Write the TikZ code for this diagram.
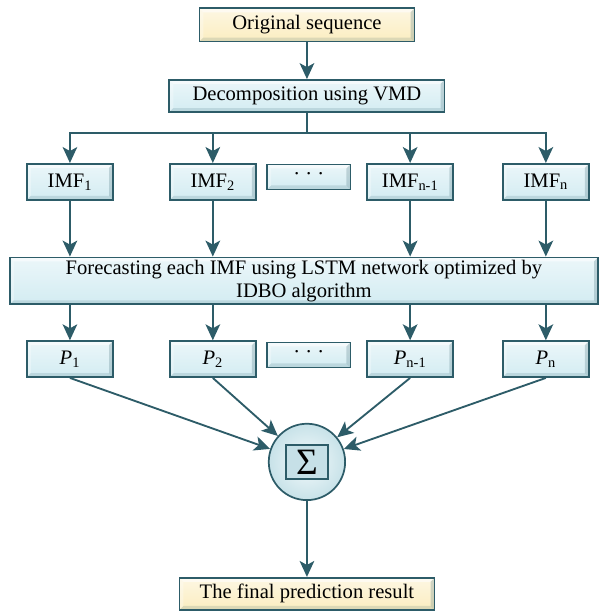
\documentclass[tikz,border=0pt]{standalone}
\usepackage{fontspec}
\setmainfont{Liberation Serif}
\usetikzlibrary{arrows.meta,positioning,calc}
\definecolor{edge}{HTML}{2D5C68}
\definecolor{boxblue}{HTML}{D3ECF2}
\definecolor{boxyellow}{HTML}{FBEDC0}

\tikzset{
    bevel/.style={path picture={
        \path (path picture bounding box.south west) coordinate (sw)
              (path picture bounding box.north east) coordinate (ne);
        \fill[white, opacity=.55] (sw|-ne) -- (ne) -- ($(ne)+(-3pt,-3pt)$) -- ($(sw|-ne)+(3pt,-3pt)$) -- cycle;
        \fill[white, opacity=.3] (sw|-ne) -- (sw) -- ($(sw)+(3pt,3pt)$) -- ($(sw|-ne)+(3pt,-3pt)$) -- cycle;
        \fill[edge, opacity=.15] (sw) -- (ne|-sw) -- ($(ne|-sw)+(-3pt,3pt)$) -- ($(sw)+(3pt,3pt)$) -- cycle;
        \fill[edge, opacity=.22] (ne) -- (ne|-sw) -- ($(ne|-sw)+(-3pt,3pt)$) -- ($(ne)+(-3pt,-3pt)$) -- cycle;
    }}
}

\begin{document}
\begin{tikzpicture}[
    base/.style={rectangle, draw=edge, line width=1.3pt, inner sep=0pt, bevel,
        font=\fontsize{15.5}{17}\selectfont},
    wide/.style={base, top color=boxblue!45!white, bottom color=boxblue},
    io/.style={base, top color=boxyellow!45!white, bottom color=boxyellow, minimum height=0.88cm},
    imf/.style={wide, minimum width=2.28cm, minimum height=0.95cm},
    dots/.style={wide, minimum width=2.2cm, minimum height=0.66cm},
    sum/.style={circle, draw=edge, line width=1.3pt, minimum size=2.02cm,
        inner color=boxblue!25!white, outer color=boxblue!93!edge},
    sigbox/.style={rectangle, draw=edge, line width=1.1pt, fill=boxblue!92!edge,
        minimum width=1.12cm, minimum height=0.9cm, inner sep=0pt,
        font=\fontsize{28}{28}\selectfont},
    ln/.style={draw=edge, line width=1.4pt},
    >={Stealth[length=12pt, width=11pt, inset=3pt]}
]
    \useasboundingbox (0,0) rectangle (16.03,16.19);

    % Input and decomposition
    \node[io, minimum width=5.69cm] (orig) at (8.12,15.53) {Original sequence};
    \node[wide, minimum width=7.28cm, minimum height=0.85cm] (vmd) at (8.12,13.65) {Decomposition using VMD};
    \coordinate (bus) at (8.12,12.67);

    % Modes
    \node[imf] (imf1) at (1.85,11.38) {IMF\textsubscript{1}};
    \node[imf] (imf2) at (5.63,11.38) {IMF\textsubscript{2}};
    \node[dots] (imfd) at (8.17,11.51) {· · ·};
    \node[imf] (imfn1) at (10.85,11.38) {IMF\textsubscript{n-1}};
    \node[imf] (imfn) at (14.44,11.38) {IMF\textsubscript{n}};

    % Forecasting
    \node[wide, minimum width=15.56cm, minimum height=1.24cm, align=center] (fc) at (8.04,8.76)
        {Forecasting each IMF using LSTM network optimized by\\ IDBO algorithm};

    % Partial predictions
    \node[imf] (p1) at (1.85,6.69) {\textit{P}\textsubscript{1}};
    \node[imf] (p2) at (5.63,6.69) {\textit{P}\textsubscript{2}};
    \node[dots] (pd) at (8.17,6.80) {· · ·};
    \node[imf] (pn1) at (10.85,6.69) {\textit{P}\textsubscript{n-1}};
    \node[imf] (pn) at (14.44,6.69) {\textit{P}\textsubscript{n}};

    % Summation and result
    \node[sum] (sum) at (8.12,3.97) {};
    \node[sigbox] (sig) at (sum) {Σ};
    \node[io, minimum width=6.75cm, minimum height=0.85cm] (final) at (8.12,0.48) {The final prediction result};

    \draw[ln, ->] (orig) -- (vmd);
    \draw[ln] (vmd.south) -- (bus);
    \foreach \m in {1,2,n1,n} {
        \draw[ln, ->] (bus) -| (imf\m.north);
        \draw[ln, ->] (imf\m) -- (imf\m |- fc.north);
        \draw[ln, ->] (fc.south -| p\m) -- (p\m);
        \draw[ln, ->] (p\m.south) -- (sum);
    }
    \draw[ln, ->] (sum) -- (final);
\end{tikzpicture}
\end{document}
